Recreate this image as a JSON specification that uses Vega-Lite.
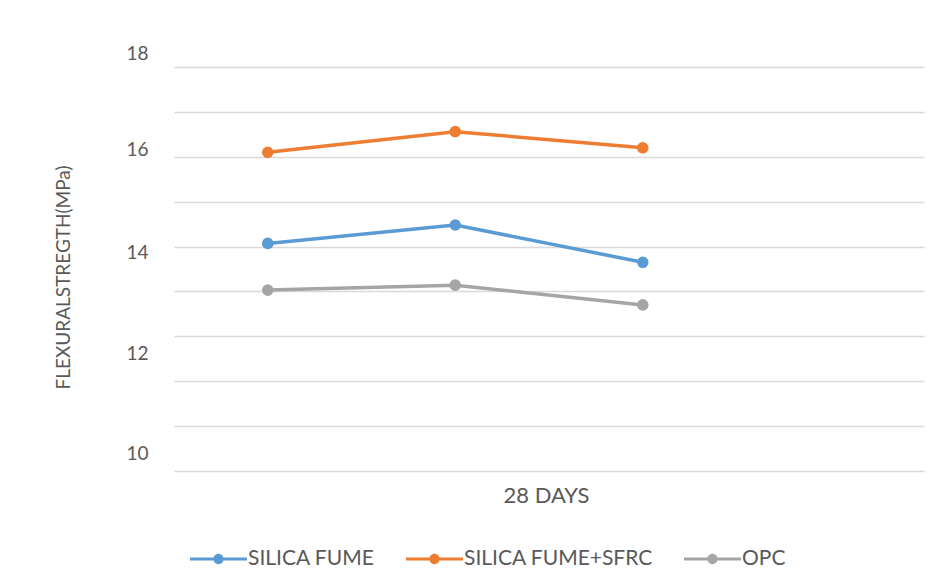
{
  "$schema": "https://vega.github.io/schema/vega-lite/v6.json",
  "width": 750,
  "height": 404,
  "autosize": {"type": "none"},
  "padding": {"left": 174, "top": 67, "right": 17, "bottom": 102},
  "background": "white",
  "config": {
    "view": {"stroke": null},
    "font": "Lato, sans-serif"
  },
  "data": {
    "values": [
      {"series": "SILICA FUME", "sample": 1, "strength": 14.07},
      {"series": "SILICA FUME", "sample": 2, "strength": 14.48},
      {"series": "SILICA FUME", "sample": 3, "strength": 13.65},
      {"series": "SILICA FUME+SFRC", "sample": 1, "strength": 16.10},
      {"series": "SILICA FUME+SFRC", "sample": 2, "strength": 16.56},
      {"series": "SILICA FUME+SFRC", "sample": 3, "strength": 16.20},
      {"series": "OPC", "sample": 1, "strength": 13.03},
      {"series": "OPC", "sample": 2, "strength": 13.14},
      {"series": "OPC", "sample": 3, "strength": 12.70}
    ]
  },
  "encoding": {
    "x": {
      "field": "sample",
      "type": "quantitative",
      "scale": {"domain": [0.5, 4.5], "nice": false, "zero": false},
      "axis": {
        "title": "28 DAYS",
        "labels": false,
        "ticks": false,
        "domain": false,
        "grid": false,
        "titleFontSize": 22,
        "titleFontWeight": "normal",
        "titleColor": "#595959",
        "titlePadding": 14,
        "titleX": 372
      }
    },
    "y": {
      "field": "strength",
      "type": "quantitative",
      "scale": {"domain": [9, 18], "nice": false, "zero": false},
      "axis": {
        "values": [9, 10, 11, 12, 13, 14, 15, 16, 17, 18],
        "labelExpr": "datum.value % 2 == 0 ? datum.label : ''",
        "ticks": false,
        "domain": false,
        "gridColor": "#d9d9d9",
        "gridWidth": 1.5,
        "labelFontSize": 19,
        "labelColor": "#595959",
        "labelPadding": 26,
        "labelOffset": {
          "condition": [
            {"test": "datum.value == 18", "value": -14},
            {"test": "datum.value == 16", "value": -7},
            {"test": "datum.value == 14", "value": 6},
            {"test": "datum.value == 12", "value": 17},
            {"test": "datum.value == 10", "value": 27}
          ],
          "value": 0
        },
        "title": "FLEXURALSTREGTH(MPa)",
        "titleFontSize": 19,
        "titleFontWeight": "normal",
        "titleColor": "#595959",
        "titleAngle": -90,
        "titleX": -111,
        "titleY": 210,
        "titleAlign": "center",
        "titleBaseline": "middle"
      }
    },
    "color": {
      "field": "series",
      "type": "nominal",
      "scale": {
        "domain": ["SILICA FUME", "SILICA FUME+SFRC", "OPC"],
        "range": ["#5B9BD5", "#ED7D31", "#A5A5A5"]
      },
      "legend": {
        "title": null,
        "orient": "none",
        "direction": "horizontal",
        "legendX": 25.5,
        "legendY": 473,
        "padding": 0,
        "symbolType": "M-1.5,-0.08H1.5V0.08H-1.5Z M-0.27,0A0.27,0.27 0 1,1 0.27,0A0.27,0.27 0 1,1 -0.27,0Z",
        "symbolSize": 1444,
        "symbolStrokeWidth": 0,
        "symbolOpacity": 1,
        "labelFontSize": 21,
        "labelLimit": 0,
        "labelColor": "#595959",
        "labelOffset": 10.5,
        "columnPadding": 30
      }
    }
  },
  "layer": [
    {
      "mark": {"type": "circle", "size": 135, "opacity": 1}
    },
    {
      "mark": {"type": "line", "strokeWidth": 3.5}
    }
  ]
}
